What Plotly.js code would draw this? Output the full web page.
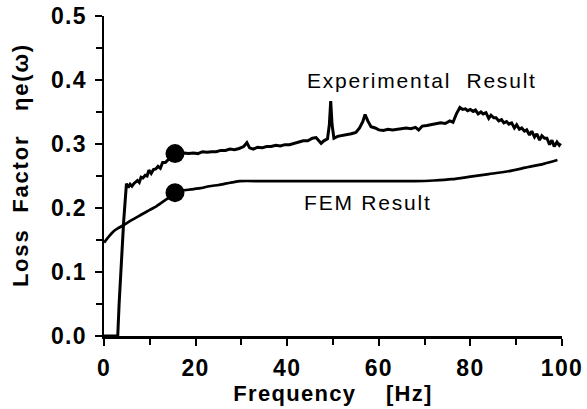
<!DOCTYPE html>
<html>
<head>
<meta charset="utf-8">
<script src="https://cdn.plot.ly/plotly-3.0.1.min.js"></script>
<style>
  html, body { margin: 0; padding: 0; background: #fff; }
  #chart { width: 587px; height: 409px; }
  #chart svg text { letter-spacing: 1.3px; }
  #chart svg .annotation-text { letter-spacing: 1.8px; }
  #chart svg .annotation:nth-of-type(-n+2) .annotation-text { stroke: #000; stroke-width: 0.5px; }
</style>
</head>
<body>
<div id="chart"></div>
<script>
// Experimental loss factor (measured)
const expFreq = [0, 3.0, 3.3, 3.8, 4.3, 4.9, 5.3, 5.7, 6.1, 6.5, 6.9, 7.3, 7.7, 8.1, 8.5, 9.0, 9.4, 9.8, 10.3, 10.8, 11.3, 11.8, 12.3, 12.8, 13.4, 14.0, 14.8, 15.5, 16.5, 17.5, 18.5, 19.5, 20.5, 21.5, 22.5, 23.5, 24.5, 25.5, 26.5, 27.5, 28.5, 29.5, 30.5, 31.2, 31.8, 32.6, 33.5, 34.5, 35.5, 36.5, 37.5, 38.5, 39.5, 40.5, 41.5, 42.5, 43.5, 44.5, 45.5, 46.3, 47.0, 47.4, 48.0, 48.8, 49.2, 49.5, 49.8, 50.2, 51, 52, 53, 54, 55, 55.8, 56.5, 57.0, 57.6, 58.3, 59.2, 60, 61, 62, 63, 64, 65, 66, 67, 68, 68.7, 69.5, 70.5, 71.5, 72.5, 73.5, 74.5, 75.5, 76.2, 77.0, 77.7, 78.3, 78.9, 79.4, 80.0, 80.6, 81.1, 81.7, 82.3, 82.8, 83.4, 84.0, 84.5, 85.1, 85.6, 86.2, 86.8, 87.3, 87.9, 88.4, 89.0, 89.6, 90.1, 90.7, 91.2, 91.8, 92.3, 92.9, 93.4, 94.0, 94.5, 95.1, 95.6, 96.2, 96.7, 97.3, 97.8, 98.3, 98.9, 99.4, 99.7];
const expLoss = [0, 0, 0.05, 0.12, 0.18, 0.238, 0.232, 0.237, 0.234, 0.238, 0.241, 0.243, 0.240, 0.248, 0.247, 0.251, 0.250, 0.259, 0.254, 0.260, 0.261, 0.265, 0.262, 0.271, 0.271, 0.276, 0.281, 0.285, 0.284, 0.286, 0.285, 0.286, 0.285, 0.288, 0.287, 0.288, 0.288, 0.290, 0.290, 0.292, 0.291, 0.293, 0.296, 0.302, 0.294, 0.292, 0.295, 0.294, 0.296, 0.296, 0.298, 0.297, 0.299, 0.299, 0.301, 0.303, 0.305, 0.305, 0.309, 0.310, 0.303, 0.301, 0.305, 0.308, 0.330, 0.367, 0.330, 0.309, 0.312, 0.313, 0.314, 0.316, 0.318, 0.325, 0.335, 0.346, 0.336, 0.327, 0.325, 0.322, 0.321, 0.323, 0.322, 0.323, 0.324, 0.325, 0.324, 0.326, 0.322, 0.328, 0.329, 0.330, 0.331, 0.333, 0.332, 0.336, 0.334, 0.348, 0.357, 0.354, 0.355, 0.352, 0.354, 0.351, 0.353, 0.347, 0.350, 0.347, 0.349, 0.340, 0.345, 0.341, 0.341, 0.336, 0.338, 0.333, 0.335, 0.331, 0.333, 0.325, 0.330, 0.323, 0.325, 0.320, 0.322, 0.314, 0.320, 0.311, 0.316, 0.306, 0.313, 0.309, 0.309, 0.299, 0.306, 0.296, 0.303, 0.298, 0.301];

// FEM loss factor (computed)
const femFreq = [0, 1, 2, 3, 4.2, 6, 8, 10, 11.5, 13.5, 15.7, 17, 19, 21, 23, 25, 26.5, 28, 29.7, 35, 40, 50, 60, 68, 72, 76, 80, 84, 88, 92, 96, 99];
const femLoss = [0.146, 0.155, 0.163, 0.168, 0.173, 0.181, 0.189, 0.197, 0.203, 0.213, 0.224, 0.227, 0.229, 0.231, 0.234, 0.236, 0.238, 0.240, 0.242, 0.242, 0.242, 0.242, 0.242, 0.242, 0.243, 0.245, 0.249, 0.253, 0.257, 0.263, 0.269, 0.275];

// Highlighted points
const markFreq = [15.5, 15.5];
const markLoss = [0.285, 0.224];

// Labels
const seriesLabels = ['Experimental  Result', 'FEM Result'];
const labelFreq = [69.4, 57.6];
const labelLoss = [0.400, 0.209];
const xTicks = [0, 20, 40, 60, 80, 100];
const yTicks = [0.0, 0.1, 0.2, 0.3, 0.4, 0.5];
const xTitle = 'Frequency    [Hz]';
const yTitle = 'Loss  Factor   ηe(ω)';

const font = 'Arial, "Liberation Sans", Helvetica, sans-serif';

const traces = [
  { x: expFreq, y: expLoss, mode: 'lines', line: { color: '#000', width: 3 }, hoverinfo: 'skip', cliponaxis: false },
  { x: femFreq, y: femLoss, mode: 'lines', line: { color: '#000', width: 2.7, shape: 'spline', smoothing: 0.6 }, hoverinfo: 'skip', cliponaxis: false },
  { x: markFreq, y: markLoss, mode: 'markers', marker: { color: '#000', size: 19 }, hoverinfo: 'skip', cliponaxis: false }
];

const axisCommon = {
  showgrid: false, zeroline: false, showline: true, linecolor: '#000', linewidth: 2.5,
  ticks: 'outside', ticklen: 7, tickwidth: 2, tickcolor: '#000',
  tickfont: { family: font, size: 23, color: '#000', weight: 'bold' },
  fixedrange: true
};

const layout = {
  width: 587, height: 409,
  margin: { l: 104, r: 25, t: 16, b: 73 },
  paper_bgcolor: '#fff', plot_bgcolor: '#fff',
  showlegend: false,
  xaxis: Object.assign({}, axisCommon, {
    range: [0, 100], tickvals: xTicks, ticktext: xTicks.map(String),
    ticklabelstandoff: 3,
    minor: { dtick: 10, ticks: 'outside', ticklen: 6, tickwidth: 2, tickcolor: '#000' },
    title: { text: xTitle, font: { family: font, size: 22, color: '#000', weight: 'bold' }, standoff: 6 }
  }),
  yaxis: Object.assign({}, axisCommon, {
    range: [0, 0.5], tickvals: yTicks, ticktext: yTicks.map(v => v.toFixed(1)),
    ticklabelstandoff: 3,
    minor: { dtick: 0.05, ticks: 'outside', ticklen: 6, tickwidth: 2, tickcolor: '#000' }
  }),
  annotations: [
    ...seriesLabels.map((t, i) => ({
      x: labelFreq[i], y: labelLoss[i], xref: 'x', yref: 'y', text: t, showarrow: false,
      font: { family: font, size: 21, color: '#000' }
    })),
    {
      x: 0.04, y: 0.535, xref: 'paper', yref: 'paper', xanchor: 'center', yanchor: 'middle',
      xshift: -102, text: yTitle, textangle: -90, showarrow: false,
      font: { family: font, size: 22, color: '#000', weight: 'bold' }
    }
  ]
};

Plotly.newPlot('chart', traces, layout, { displayModeBar: false, staticPlot: true });
</script>
</body>
</html>
